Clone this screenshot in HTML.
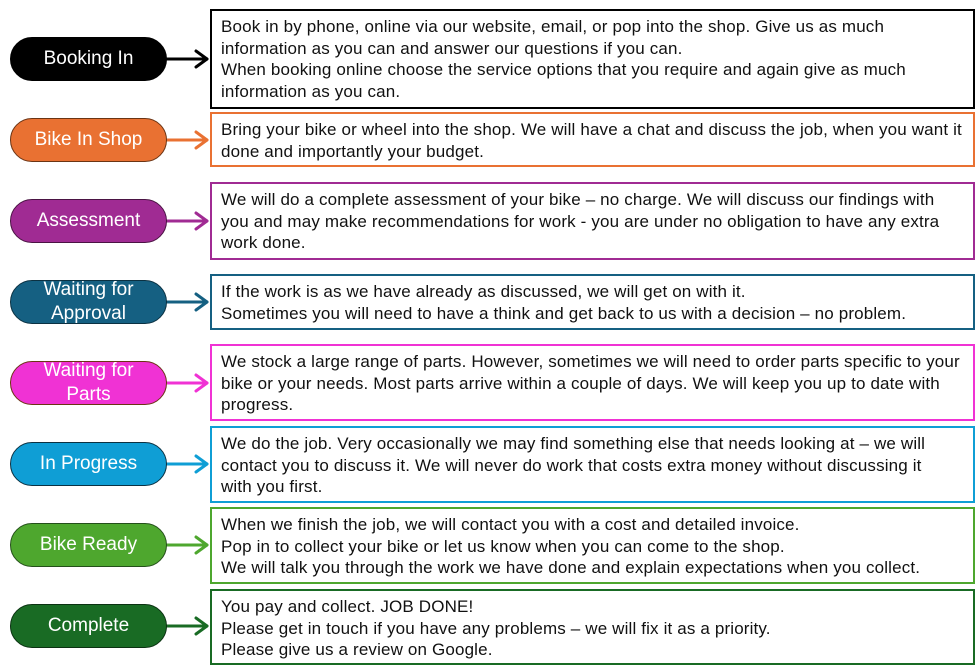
<!DOCTYPE html>
<html><head><meta charset="utf-8"><style>
body{margin:0;width:979px;height:670px;background:#fff;position:relative;overflow:hidden;font-family:"Liberation Sans",sans-serif}
.p{position:absolute;left:10px;width:155px;height:42px;border-radius:22px;border:1.5px solid;color:#fff;font-size:19px;display:flex;align-items:center;justify-content:center;text-align:center;line-height:24px}
.b{position:absolute;left:210px;width:765px;border:2px solid;box-sizing:border-box;padding:5px 9px;font-size:17px;letter-spacing:0.15px;line-height:21.5px;color:#111;white-space:nowrap;overflow:hidden}
svg{position:absolute;left:0;top:0}
</style></head><body>
<svg width="979" height="670">
<g stroke-width="3" fill="none" stroke-linecap="round" stroke-linejoin="round">
<g stroke="#000"><line x1="166" y1="59" x2="207" y2="59"/><polyline points="196,51 207,59 196,67"/></g>
<g stroke="#E97132"><line x1="166" y1="140" x2="207" y2="140"/><polyline points="196,132 207,140 196,148"/></g>
<g stroke="#A02B93"><line x1="166" y1="221" x2="207" y2="221"/><polyline points="196,213 207,221 196,229"/></g>
<g stroke="#156082"><line x1="166" y1="302" x2="207" y2="302"/><polyline points="196,294 207,302 196,310"/></g>
<g stroke="#F032D4"><line x1="166" y1="383" x2="207" y2="383"/><polyline points="196,375 207,383 196,391"/></g>
<g stroke="#0F9ED5"><line x1="166" y1="464" x2="207" y2="464"/><polyline points="196,456 207,464 196,472"/></g>
<g stroke="#4EA72E"><line x1="166" y1="545" x2="207" y2="545"/><polyline points="196,537 207,545 196,553"/></g>
<g stroke="#196B24"><line x1="166" y1="626" x2="207" y2="626"/><polyline points="196,618 207,626 196,634"/></g>
</g></svg>
<div class="p" style="top:37px;background:#000;border-color:#000">Booking In</div>
<div class="p" style="top:118px;background:#E97132;border-color:#6b3414">Bike In Shop</div>
<div class="p" style="top:199px;background:#A02B93;border-color:#4a1343">Assessment</div>
<div class="p" style="top:280px;background:#156082;border-color:#0b3142">Waiting for<br>Approval</div>
<div class="p" style="top:361px;background:#F032D4;border-color:#6b3414">Waiting for<br>Parts</div>
<div class="p" style="top:442px;background:#0F9ED5;border-color:#0b3142">In Progress</div>
<div class="p" style="top:523px;background:#4EA72E;border-color:#24501a">Bike Ready</div>
<div class="p" style="top:604px;background:#196B24;border-color:#0b3212">Complete</div>

<div class="b" style="top:9px;height:100px;border-color:#000">Book in by phone, online via our website, email, or pop into the shop. Give us as much<br>information as you can and answer our questions if you can.<br>When booking online choose the service options that you require and again give as much<br>information as you can.</div>
<div class="b" style="top:112px;height:55px;border-color:#E97132">Bring your bike or wheel into the shop. We will have a chat and discuss the job, when you want it<br>done and importantly your budget.</div>
<div class="b" style="top:182px;height:78px;border-color:#A02B93">We will do a complete assessment of your bike – no charge. We will discuss our findings with<br>you and may make recommendations for work - you are under no obligation to have any extra<br>work done.</div>
<div class="b" style="top:274px;height:56px;border-color:#156082">If the work is as we have already as discussed, we will get on with it.<br>Sometimes you will need to have a think and get back to us with a decision – no problem.</div>
<div class="b" style="top:344px;height:77px;border-color:#F032D4">We stock a large range of parts. However, sometimes we will need to order parts specific to your<br>bike or your needs. Most parts arrive within a couple of days. We will keep you up to date with<br>progress.</div>
<div class="b" style="top:426px;height:77px;border-color:#0F9ED5">We do the job. Very occasionally we may find something else that needs looking at – we will<br>contact you to discuss it. We will never do work that costs extra money without discussing it<br>with you first.</div>
<div class="b" style="top:507px;height:77px;border-color:#4EA72E">When we finish the job, we will contact you with a cost and detailed invoice.<br>Pop in to collect your bike or let us know when you can come to the shop.<br>We will talk you through the work we have done and explain expectations when you collect.</div>
<div class="b" style="top:589px;height:76px;border-color:#196B24">You pay and collect. JOB DONE!<br>Please get in touch if you have any problems – we will fix it as a priority.<br>Please give us a review on Google.</div>
</body></html>
